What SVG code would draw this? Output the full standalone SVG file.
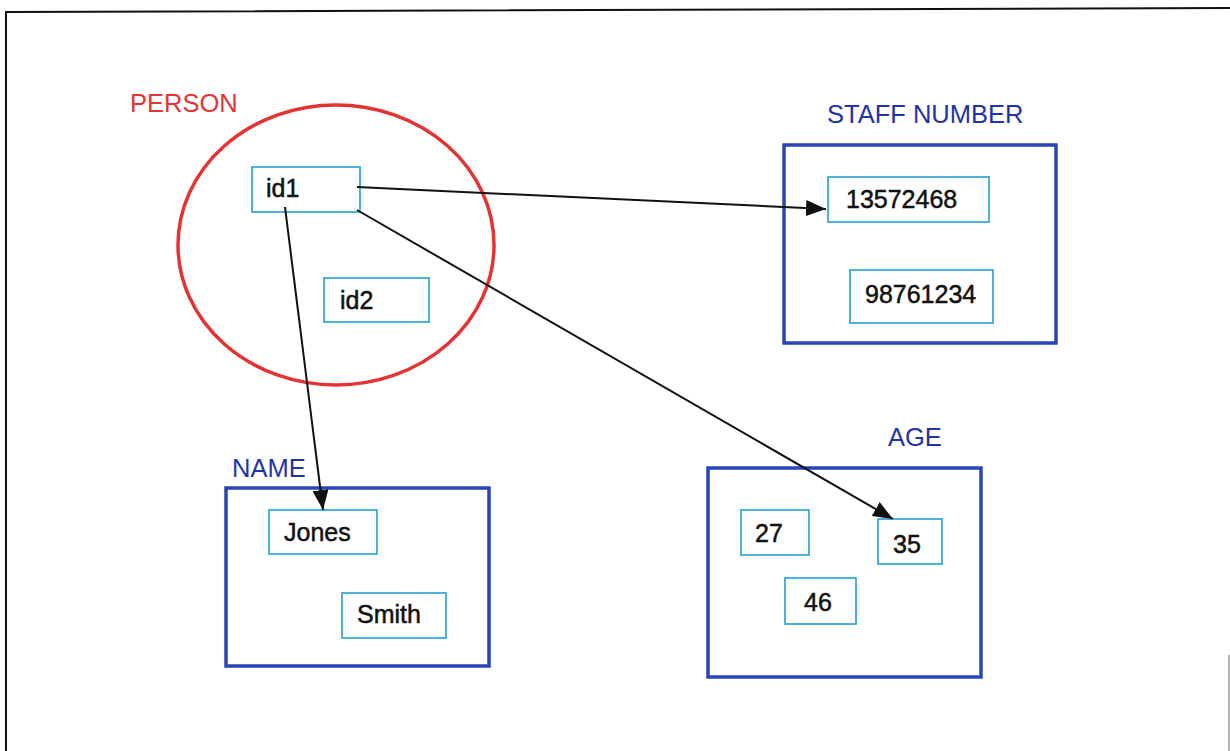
<svg xmlns="http://www.w3.org/2000/svg" width="1230" height="751" viewBox="0 0 1230 751">
<style>
.lbl{font-family:"Liberation Sans",Arial,sans-serif;font-size:25.5px}
.blue{fill:#2233aa}
.val{font-family:"Liberation Sans",Arial,sans-serif;font-size:25px;fill:#111;stroke:#111;stroke-width:0.5}
.set{fill:none;stroke:#2a44bb;stroke-width:3.5}
.item{fill:#fff;stroke:#3aaad8;stroke-width:1.8}
.conn{fill:none;stroke:#111;stroke-width:2}
</style>
<defs>
<marker id="ahb" viewBox="0 0 20 16" refX="20" refY="8" markerWidth="20" markerHeight="16" markerUnits="userSpaceOnUse" orient="auto">
<path d="M0,0 L20,8 L0,16 Z" fill="#111"/>
</marker>
</defs>
<rect width="1230" height="751" fill="#fff"/>
<g id="frame">
<path d="M6,751 L6,12 L1230,8" fill="none" stroke="#111" stroke-width="2"/>
<path d="M1229,655 L1229,751" fill="none" stroke="#999" stroke-width="1.5"/>
</g>
<g id="person">
<text class="lbl" x="130" y="112" fill="#e53333">PERSON</text>
<ellipse cx="336" cy="245" rx="158" ry="140" fill="none" stroke="#e53333" stroke-width="3.5"/>
</g>
<g id="id1">
<rect class="item" x="252" y="167" width="108" height="45"/>
<text class="val" x="266" y="197">id1</text>
</g>
<g id="id2">
<rect class="item" x="324" y="278" width="105" height="44"/>
<text class="val" x="340" y="309">id2</text>
</g>
<g id="staff">
<text class="lbl blue" x="827" y="123">STAFF NUMBER</text>
<rect class="set" x="784" y="145" width="272" height="198"/>
</g>
<g id="s1">
<rect class="item" x="828" y="177" width="161" height="45"/>
<text class="val" x="846" y="208">13572468</text>
</g>
<g id="s2">
<rect class="item" x="850" y="270" width="143" height="53"/>
<text class="val" x="865" y="303">98761234</text>
</g>
<g id="name">
<text class="lbl blue" x="232" y="477">NAME</text>
<rect class="set" x="226" y="488" width="263" height="178"/>
</g>
<g id="jones">
<rect class="item" x="269" y="510" width="108" height="44"/>
<text class="val" x="284" y="541">Jones</text>
</g>
<g id="smith">
<rect class="item" x="342" y="593" width="104" height="45"/>
<text class="val" x="357" y="623">Smith</text>
</g>
<g id="age">
<text class="lbl blue" x="888" y="446">AGE</text>
<rect class="set" x="708" y="468" width="273" height="209"/>
</g>
<g id="a27">
<rect class="item" x="741" y="510" width="68" height="45"/>
<text class="val" x="755" y="542">27</text>
</g>
<g id="a35">
<rect class="item" x="878" y="519" width="64" height="45"/>
<text class="val" x="893" y="553">35</text>
</g>
<g id="a46">
<rect class="item" x="785" y="578" width="71" height="46"/>
<text class="val" x="804" y="611">46</text>
</g>
<g id="connectors">
<line class="conn" x1="357" y1="187" x2="826" y2="209" marker-end="url(#ahb)"/>
<line class="conn" x1="285" y1="207" x2="323" y2="510" marker-end="url(#ahb)"/>
<line class="conn" x1="357" y1="210" x2="893" y2="519" marker-end="url(#ahb)"/>
</g>
</svg>
